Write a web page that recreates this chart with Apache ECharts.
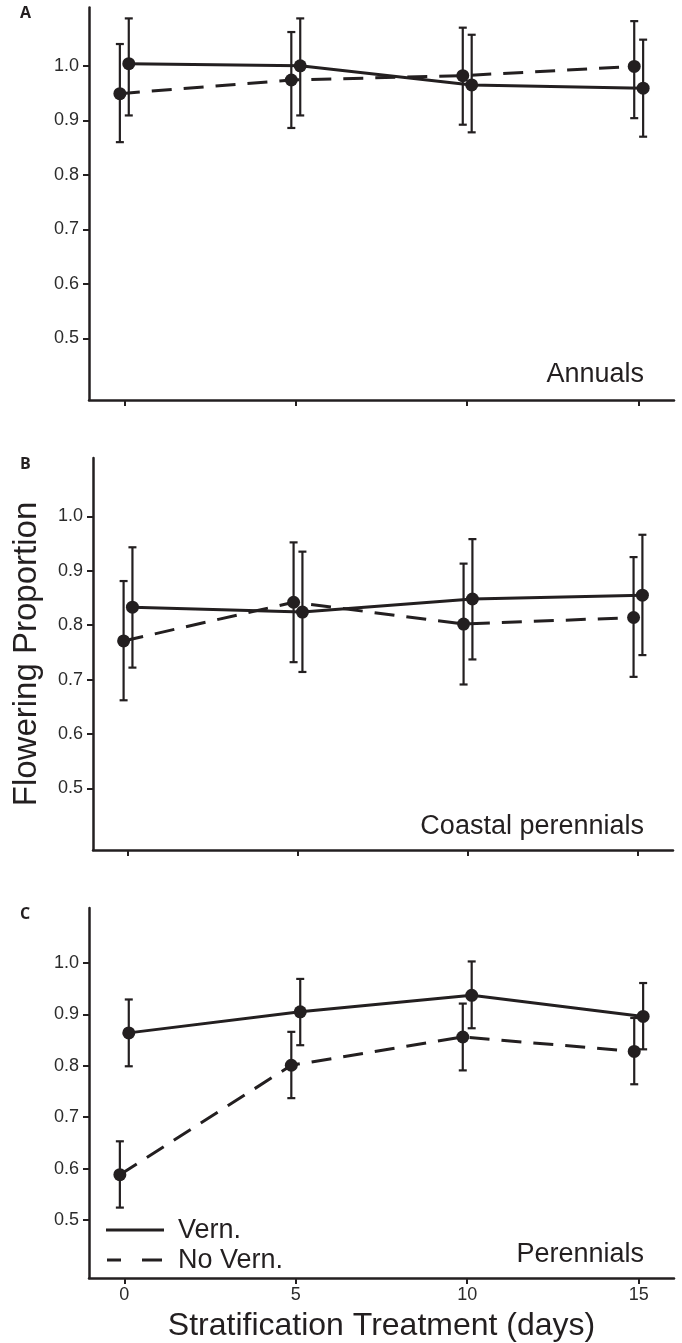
<!DOCTYPE html>
<html>
<head>
<meta charset="utf-8">
<script src="https://cdn.jsdelivr.net/npm/echarts@6/dist/echarts.min.js"></script>
<style>
  html, body { margin: 0; padding: 0; background: #fff; }
  #chart { width: 682px; height: 1343px; }
</style>
</head>
<body>
<div id="chart"></div>
<script>
// stratification days (x) and the dodge between the two groups
const days = [0, 5, 10, 15];
const dodge = 0.13;
const yTicks = [0.5, 0.6, 0.7, 0.8, 0.9, 1.0];

// A - annuals
const annualsVern = [1.004, 1.000, 0.965, 0.959];
const annualsVernLo = [0.909, 0.909, 0.878, 0.870];
const annualsVernHi = [1.087, 1.087, 1.057, 1.048];
const annualsNoVern = [0.949, 0.974, 0.982, 0.999];
const annualsNoVernLo = [0.860, 0.886, 0.892, 0.904];
const annualsNoVernHi = [1.040, 1.062, 1.070, 1.082];

// B - coastal perennials
const coastalVern = [0.833, 0.824, 0.848, 0.855];
const coastalVernLo = [0.722, 0.714, 0.737, 0.745];
const coastalVernHi = [0.943, 0.935, 0.958, 0.966];
const coastalNoVern = [0.771, 0.842, 0.802, 0.814];
const coastalNoVernLo = [0.662, 0.732, 0.691, 0.705];
const coastalNoVernHi = [0.881, 0.952, 0.913, 0.925];

// C - perennials
const perennialVern = [0.864, 0.905, 0.937, 0.896];
const perennialVernLo = [0.799, 0.840, 0.873, 0.832];
const perennialVernHi = [0.929, 0.969, 1.003, 0.961];
const perennialNoVern = [0.588, 0.801, 0.856, 0.828];
const perennialNoVernLo = [0.524, 0.737, 0.791, 0.764];
const perennialNoVernHi = [0.653, 0.866, 0.921, 0.893];

const panels = [
  { letter: "A", title: "Annuals", vern: [annualsVern, annualsVernLo, annualsVernHi], noVern: [annualsNoVern, annualsNoVernLo, annualsNoVernHi] },
  { letter: "B", title: "Coastal perennials", vern: [coastalVern, coastalVernLo, coastalVernHi], noVern: [coastalNoVern, coastalNoVernLo, coastalNoVernHi] },
  { letter: "C", title: "Perennials", vern: [perennialVern, perennialVernLo, perennialVernHi], noVern: [perennialNoVern, perennialNoVernLo, perennialNoVernHi] }
];

const ink = "#231f20";
const font = "Liberation Sans, Arial, sans-serif";
const dash = [20, 12];

const grids = [
  { left: 89, top: 7.5, width: 585, height: 392.5 },
  { left: 93, top: 458, width: 580, height: 392 },
  { left: 89, top: 908, width: 585, height: 371 }
];

/**
 * error bars with caps, drawn through the axis scales
 */
function errorSeries(idx, offset, lo, hi) {
  return {
    type: "custom",
    xAxisIndex: idx,
    yAxisIndex: idx,
    z: 2,
    encode: { x: 0, y: [1, 2] },
    data: days.map((d, i) => [d + offset, lo[i], hi[i]]),
    renderItem(params, api) {
      const top = api.coord([api.value(0), api.value(2)]);
      const bot = api.coord([api.value(0), api.value(1)]);
      const w = 4;
      const style = { stroke: ink, lineWidth: 2.2 };
      return {
        type: "group",
        children: [
          { type: "line", shape: { x1: top[0], y1: top[1], x2: bot[0], y2: bot[1] }, style },
          { type: "line", shape: { x1: top[0] - w, y1: top[1], x2: top[0] + w, y2: top[1] }, style },
          { type: "line", shape: { x1: bot[0] - w, y1: bot[1], x2: bot[0] + w, y2: bot[1] }, style }
        ]
      };
    }
  };
}

function lineSeries(idx, name, offset, vals, type) {
  return {
    type: "line",
    name,
    xAxisIndex: idx,
    yAxisIndex: idx,
    z: 3,
    data: days.map((d, i) => [d + offset, vals[i]]),
    symbol: "circle",
    symbolSize: 13,
    itemStyle: { color: ink },
    lineStyle: { color: ink, width: 3, type },
    emphasis: { disabled: true }
  };
}

const xAxes = grids.map((g, i) => ({
  gridIndex: i,
  type: "value",
  min: -1.03,
  max: 16.03,
  axisLine: { onZero: false, lineStyle: { color: ink, width: 2.5 } },
  axisTick: { show: true, length: 6, lineStyle: { color: ink, width: 2 }, customValues: days },
  axisLabel: { show: i === 2, customValues: days, margin: 8, fontSize: 18, color: "#2b2b2b", fontFamily: font },
  splitLine: { show: false },
  name: i === 2 ? "Stratification Treatment (days)" : "",
  nameLocation: "middle",
  nameGap: 32,
  nameTextStyle: { fontSize: 32, color: ink, fontFamily: font }
}));

const yAxes = grids.map((g, i) => ({
  gridIndex: i,
  type: "value",
  min: 0.387,
  max: 1.107,
  axisLine: { show: true, onZero: false, lineStyle: { color: ink, width: 2.5 } },
  axisTick: { show: true, length: 6, lineStyle: { color: ink, width: 2 }, customValues: yTicks },
  axisLabel: { customValues: yTicks, margin: 10, fontSize: 18, color: "#2b2b2b", fontFamily: font, formatter: v => v.toFixed(1) },
  splitLine: { show: false },
  name: i === 1 ? "Flowering Proportion" : "",
  nameLocation: "middle",
  nameRotate: 90,
  nameGap: 50,
  nameTextStyle: { fontSize: 33, color: ink, fontFamily: font }
}));

const series = [];
panels.forEach((p, i) => {
  series.push(errorSeries(i, -dodge, p.noVern[1], p.noVern[2]));
  series.push(errorSeries(i, dodge, p.vern[1], p.vern[2]));
  series.push(lineSeries(i, "No Vern.", -dodge, p.noVern[0], dash));
  series.push(lineSeries(i, "Vern.", dodge, p.vern[0], "solid"));
});

// panel letters and group names
const graphics = [];
const letterY = [14, 465, 915];
const titleY = [375, 827, 1255];
panels.forEach((p, i) => {
  graphics.push({
    type: "text", left: 20, top: letterY[i] - 9,
    style: { text: p.letter, font: "bold 16px 'Open Sans', sans-serif", fill: ink }
  });
  graphics.push({
    type: "text", x: 644, y: titleY[i],
    style: { text: p.title, font: "27px " + font, fill: ink, align: "right", verticalAlign: "middle" }
  });
});

// legend in panel C
graphics.push(
  { type: "line", shape: { x1: 106, y1: 1230, x2: 164, y2: 1230 }, style: { stroke: ink, lineWidth: 3 } },
  { type: "line", shape: { x1: 107, y1: 1260, x2: 162, y2: 1260 }, style: { stroke: ink, lineWidth: 3, lineDash: [14, 21, 20, 10] } },
  { type: "text", x: 178, y: 1231, style: { text: "Vern.", font: "27px " + font, fill: ink, verticalAlign: "middle" } },
  { type: "text", x: 178, y: 1261, style: { text: "No Vern.", font: "27px " + font, fill: ink, verticalAlign: "middle" } }
);

const chart = echarts.init(document.getElementById("chart"), null, { renderer: "canvas" });
chart.setOption({
  animation: false,
  backgroundColor: "#fff",
  grid: grids,
  xAxis: xAxes,
  yAxis: yAxes,
  series,
  graphic: graphics
});
</script>
</body>
</html>
